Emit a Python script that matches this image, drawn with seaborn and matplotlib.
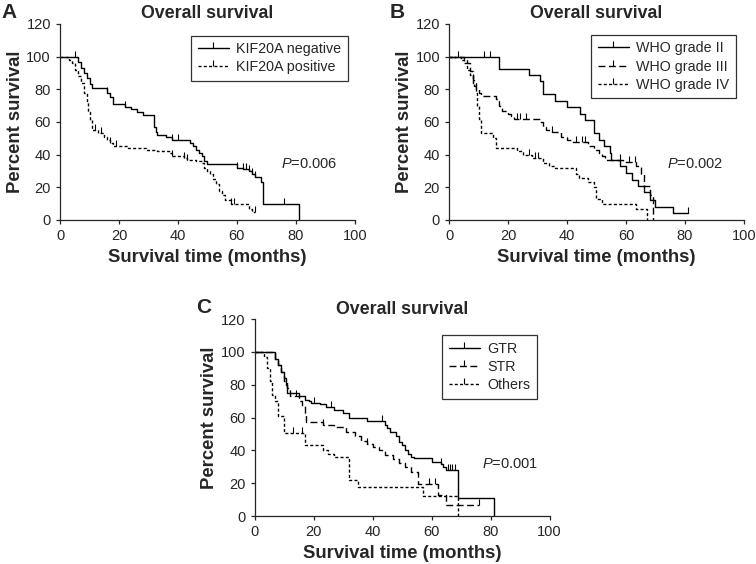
import numpy as np
import matplotlib
matplotlib.use('Agg')
import matplotlib.pyplot as plt
from matplotlib.lines import Line2D
import seaborn as sns

# Panel A - KIF20A
neg_t = [0, 6, 7, 8, 9, 10, 11, 16, 17, 18, 22, 24, 26, 28, 32, 32.5, 33, 36, 38, 44, 45, 46, 47, 48, 49, 50, 60, 62, 64, 65, 66, 68, 69, 81]
neg_s = [100, 97, 93, 90, 87, 83, 80.5, 78, 75, 71, 69, 68, 66, 64, 57, 54, 52, 51, 49, 47, 45, 43, 41, 39, 36, 34, 32, 31, 30, 28, 26, 23, 10, 0]
neg_c = [5, 16, 22, 38, 40, 60, 62, 63, 64, 65, 66, 76]
pos_t = [0, 3, 4, 5, 6, 7, 8, 9, 9.5, 10, 11, 13, 15, 16, 17, 18, 23, 29, 33, 37, 38, 42, 43, 46, 48, 49, 50, 51, 52, 53, 54, 55, 56, 58, 64, 65, 66]
pos_s = [100, 98, 96, 92, 88, 84, 78, 72, 66, 61, 55, 53, 51, 49, 47, 45, 44, 43, 42, 41, 39, 38, 37, 36, 35, 32, 30, 28, 25, 22, 18, 15, 12, 10, 7, 5, 5]
pos_c = [12, 14, 17, 19, 38, 42, 43, 58, 59, 66]

# Panel B - WHO grade
g2_t = [0, 17, 27, 31, 32, 36, 40, 44.5, 46, 49, 51, 52.5, 54.5, 55, 58, 60, 62, 64, 66, 68, 70, 76, 81]
g2_s = [100, 92.5, 89, 85, 77, 73, 69, 65, 61, 53, 49, 45, 41, 37, 33, 29, 24.5, 20.5, 17, 12, 8, 4, 4]
g2_c = [3, 12, 14, 81]
g3_t = [0, 5, 6, 7, 8, 8.5, 9, 10, 11, 16, 17, 18, 20, 21, 22, 31, 32, 33, 35, 38, 40, 42, 47, 49, 51, 52, 53, 59, 63.5, 65, 66, 68, 69]
g3_s = [100, 98, 96, 91, 86, 82, 80, 78, 76, 74, 70, 67, 65, 63.5, 62, 60, 57, 55, 54, 51, 49, 47.5, 45, 43, 41, 39, 37, 35.5, 33, 28, 21, 15, 0]
g3_c = [8, 23, 24, 26, 35, 43, 45, 46, 58, 61, 63]
g4_t = [0, 4, 5, 6, 7, 8, 9, 9.5, 10, 11, 15, 16, 23, 25, 28, 32, 34, 36, 43, 44, 47, 49, 50, 52, 63.5, 67]
g4_s = [100, 98, 96, 92, 89, 84, 78, 70, 62, 53, 50, 44, 42, 40, 38, 35, 33, 32, 28, 25.5, 23, 20, 13, 9.5, 6.5, 0]
g4_c = [8, 27, 29, 30]

# Panel C - resection
gtr_t = [0, 7, 8, 9, 10, 10.5, 11, 15, 17, 18.5, 19, 22, 24, 27, 30, 32, 38, 44, 45, 46, 48, 49, 50, 51, 52, 53, 54, 60, 63, 64, 65, 69, 81]
gtr_s = [100, 96, 92, 88, 84, 80, 75, 73, 71, 70, 69, 68, 66.5, 64.5, 62.5, 60, 58, 55.5, 53.5, 51, 49, 45, 43, 40.5, 38, 36, 35.4, 33, 32, 30, 28, 11, 0]
gtr_c = [7, 20, 26, 43, 63, 65.5, 66.3, 67, 67.8]
str_t = [0, 7, 8, 9, 10, 11, 12, 15, 16, 17, 17.5, 23, 27, 31, 34, 36, 38, 40, 42, 44, 47, 49, 51, 53, 55.5, 62, 65, 76]
str_s = [100, 96, 92, 88, 82, 78, 73, 70, 67, 63, 57.5, 55.5, 54, 51, 48.5, 46, 44, 42, 40, 37, 35, 32.5, 30, 27, 19.5, 13, 6.5, 6.5]
str_c = [14, 23, 38, 59, 61, 76]
oth_t = [0, 3, 4, 5, 6, 7, 8, 10, 17, 23, 25, 27, 32, 35, 57, 69]
oth_s = [100, 97, 90, 82, 74, 70, 61, 50.5, 43.5, 40.5, 38, 36, 22, 17.5, 12, 0]
oth_c = [13, 16]

SOLID = '-'
LONG = (0, (5, 2.5))
SHORT = (0, (2.2, 1.6))

sns.set_style('ticks')
plt.rcParams['font.family'] = ['Liberation Sans', 'DejaVu Sans']
plt.rcParams['mathtext.fontset'] = 'custom'
plt.rcParams['mathtext.it'] = 'Liberation Sans:italic'
plt.rcParams['mathtext.rm'] = 'Liberation Sans'


def courbe_km(ax, t, s, cens, ls):
    sns.lineplot(x=t, y=s, ax=ax, color='black', linewidth=1.0, linestyle=ls,
                 drawstyle='steps-post', estimator=None, errorbar=None, sort=False)
    t = np.asarray(t)
    s = np.asarray(s)
    idx = np.searchsorted(t, cens, side='right') - 1
    ax.plot(cens, s[idx], linestyle='none', marker=2, markersize=4,
            markeredgewidth=0.8, color='black')


def panneau(ax, lettre, courbes, labels, pval, ppos, leg_anchor):
    for (t, s, c, ls) in courbes:
        courbe_km(ax, t, s, c, ls)
    ax.set_xlim(0, 100)
    ax.set_ylim(0, 120)
    ax.set_xticks(range(0, 101, 20))
    ax.set_yticks(range(0, 121, 20))
    ax.tick_params(labelsize=10.5, length=3, width=0.9, direction='out', pad=3.5)
    for sp in ['left', 'bottom']:
        ax.spines[sp].set_linewidth(0.9)
    sns.despine(ax=ax)
    ax.set_xlabel('Survival time (months)', fontsize=13.3, fontweight='bold', labelpad=4)
    ax.set_ylabel('Percent survival', fontsize=13.3, fontweight='bold', labelpad=2)
    ax.set_title('Overall survival', fontsize=12.8, fontweight='bold', pad=4)
    ax.text(-0.2, 1.06, lettre, transform=ax.transAxes, fontsize=15,
            fontweight='bold', va='center', ha='left')
    ax.text(ppos[0], ppos[1], r'$\it{P}$=' + pval, fontsize=10.5, va='center', ha='left')
    handles = [Line2D([0], [0], color='black', linewidth=1.0, linestyle=c[3],
                      marker=2, markersize=4, markeredgewidth=0.8) for c in courbes]
    leg = ax.legend(handles, labels, loc='upper right', bbox_to_anchor=leg_anchor,
                    fontsize=10.3, frameon=True, fancybox=False, numpoints=1,
                    handlelength=2.2, handletextpad=0.5, borderpad=0.45,
                    labelspacing=0.3, edgecolor='black', borderaxespad=0)
    leg.get_frame().set_linewidth(0.9)


fig = plt.figure(figsize=(7.56, 5.64), dpi=100)
axA = fig.add_axes([0.0794, 0.610, 0.390, 0.3475])
axB = fig.add_axes([0.594, 0.610, 0.390, 0.3475])
axC = fig.add_axes([0.337, 0.0851, 0.390, 0.349])

panneau(axA, 'A',
        [(neg_t, neg_s, neg_c, SOLID), (pos_t, pos_s, pos_c, SHORT)],
        ['KIF20A negative', 'KIF20A positive'], '0.006', (75, 34), (0.976, 0.94))
panneau(axB, 'B',
        [(g2_t, g2_s, g2_c, SOLID), (g3_t, g3_s, g3_c, LONG), (g4_t, g4_s, g4_c, SHORT)],
        ['WHO grade II', 'WHO grade III', 'WHO grade IV'], '0.002', (74, 34), (0.973, 0.944))
panneau(axC, 'C',
        [(gtr_t, gtr_s, gtr_c, SOLID), (str_t, str_s, str_c, LONG), (oth_t, oth_s, oth_c, SHORT)],
        ['GTR', 'STR', 'Others'], '0.001', (77, 31.5), (0.956, 0.919))

fig.savefig('out.png', dpi=100)
